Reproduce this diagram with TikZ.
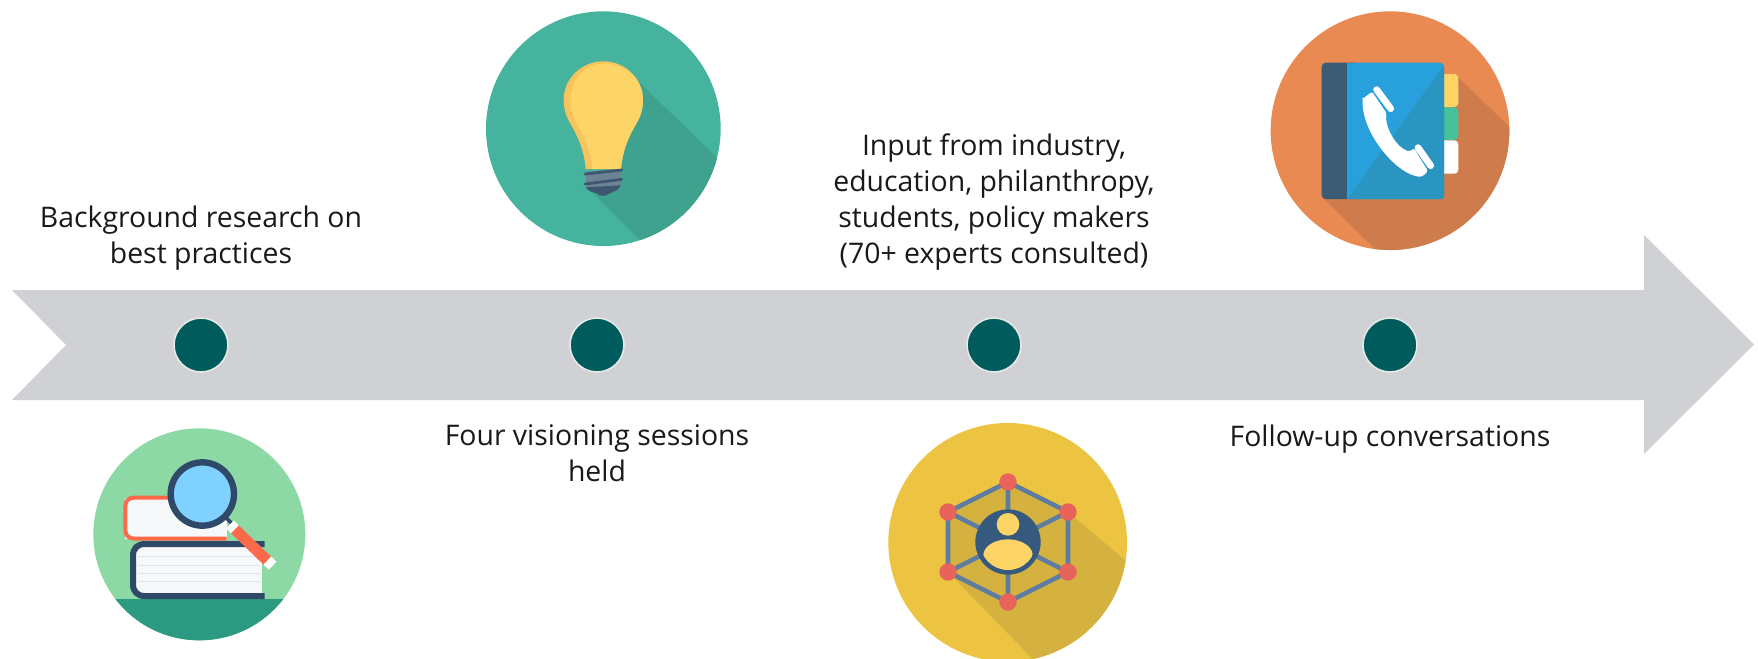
\documentclass[tikz,border=0pt]{standalone}
\usepackage{fontspec}
\setmainfont{Open Sans}
\usepackage{tikz}
\definecolor{barGray}{HTML}{CFD1D5}
\definecolor{dotTeal}{HTML}{005C5C}
\definecolor{dotRim}{HTML}{E8E8E8}
\definecolor{navy}{HTML}{2E4A68}
\definecolor{bookGreen}{HTML}{8CD9A5}
\definecolor{bookBand}{HTML}{2B9A80}
\definecolor{bookRed}{HTML}{FB6A4A}
\definecolor{glassBlue}{HTML}{7FD2FF}
\definecolor{pageWhite}{HTML}{F6F8F9}
\definecolor{pageLine}{HTML}{DFE4E8}
\definecolor{bulbTeal}{HTML}{45B39D}
\definecolor{bulbShade}{HTML}{3FA28E}
\definecolor{bulbDark}{HTML}{F8C35C}
\definecolor{bulbLight}{HTML}{FDD466}
\definecolor{capGray}{HTML}{6E8296}
\definecolor{capDark}{HTML}{3E5670}
\definecolor{netYellow}{HTML}{EDC342}
\definecolor{netShade}{HTML}{D5B13F}
\definecolor{netBlue}{HTML}{5C7CA0}
\definecolor{netRed}{HTML}{E8635A}
\definecolor{netNavy}{HTML}{365A7E}
\definecolor{phoneOrange}{HTML}{E98A52}
\definecolor{phoneShade}{HTML}{CE7C4C}
\definecolor{coverBlue}{HTML}{27A0DC}
\definecolor{coverShade}{HTML}{2B95C2}
\definecolor{spine}{HTML}{3C5B75}
\definecolor{tabGreen}{HTML}{45C19B}
\tikzstyle{dot}=[circle, inner sep=0pt, draw=dotRim, line width=0.8pt, fill=dotTeal, minimum size=27pt]
\tikzstyle{lbl}=[align=center, inner sep=0pt, text=black!90, font=\fontsize{14.2}{18}\selectfont]
\tikzstyle{icon}=[x=0.16667pt, y=-0.16667pt]
\tikzstyle{web}=[draw=netBlue, line width=2.3pt]
\tikzstyle{hub}=[fill=netRed]
\begin{document}
\begin{tikzpicture}[x=0.5pt, y=-0.5pt]
	\useasboundingbox (0,0) rectangle (1758,659);
	\clip (0,0) rectangle (1758,659);
	\fill[barGray] (12,290) -- (1644,290) -- (1644,235) -- (1754,344.5) -- (1644,454) -- (1644,400) -- (12,400) -- (66,345) -- cycle;
	\draw (201,345) node[dot] (d1) {};
	\draw (597,345) node[dot] (d2) {};
	\draw (994,345) node[dot] (d3) {};
	\draw (1390,345) node[dot] (d4) {};
	\draw (201,238) node[lbl] (t1) {Background research on\\best practices};
	\draw (597,453) node[lbl] (t2) {Four visioning sessions\\held};
	\draw (994,202) node[lbl] (t3) {Input from industry,\\education, philanthropy,\\students, policy makers\\(70+ experts consulted)};
	\draw (1390,439) node[lbl] (t4) {Follow-up conversations};
	\begin{scope}[shift={(60,400)}, icon]
		\fill[bookGreen] (418,403) circle (318);
		\begin{scope}
			\clip (418,403) circle (318);
			\fill[bookBand] (0,597) rectangle (900,760);
		\end{scope}
		\fill[pageWhite] (196,293) rectangle (500,416);
		\draw[bookRed, line width=2pt] (500,416) -- (225,416) .. controls (205,416) and (196,405) .. (196,390) -- (196,320) .. controls (196,303) and (205,293) .. (222,293) -- (340,293);
		\fill[pageWhite] (225,432) rectangle (606,588);
		\draw[pageLine, line width=0.4pt] (235,470) -- (600,470) (235,495) -- (600,495) (235,520) -- (600,520) (235,545) -- (600,545);
		\draw[navy, line width=3pt] (614,432) -- (255,432) .. controls (232,432) and (219,445) .. (219,468) -- (219,552) .. controls (219,575) and (232,588) .. (255,588) -- (614,588);
		\draw[navy, line width=1.8pt] (500,355) -- (515,370);
		\draw[white, line width=5.5pt] (510,373) -- (525,388);
		\draw[bookRed, line width=5.5pt] (525,388) -- (622,482);
		\draw[white, line width=5.5pt] (622,482) -- (638,497);
		\draw[navy, line width=3.2pt, fill=glassBlue] (427,282) circle (95);
	\end{scope}
	\begin{scope}[shift={(460,0)}, icon]
		\fill[bulbTeal] (430,386) circle (352);
		\begin{scope}
			\clip (430,386) circle (352);
			\fill[bulbShade] (530,240) -- (800,500) -- (800,800) -- (620,800) -- (390,570) -- cycle;
		\end{scope}
		\fill[bulbDark] (377,507) .. controls (372,440) and (345,395) .. (325,360) .. controls (315,340) and (311,320) .. (311,300) .. controls (311,235) and (365,184) .. (430,184) .. controls (495,184) and (549,235) .. (549,300) .. controls (549,320) and (545,340) .. (535,360) .. controls (515,395) and (488,440) .. (483,507) -- cycle;
		\fill[bulbLight] (398,507) .. controls (392,440) and (362,395) .. (345,360) .. controls (335,340) and (331,320) .. (331,300) .. controls (331,240) and (375,190) .. (430,190) .. controls (495,190) and (549,235) .. (549,300) .. controls (549,320) and (545,340) .. (535,360) .. controls (515,395) and (488,440) .. (483,507) -- cycle;
		\fill[capGray] (378,515) -- (482,510) -- (482,560) -- (378,565) -- cycle;
		\fill[capDark] (378,562) -- (482,556) .. controls (475,575) and (460,572) .. (450,580) .. controls (435,590) and (420,590) .. (410,580) .. controls (395,575) and (385,575) .. (378,562) -- cycle;
		\draw[capDark, line width=1.4pt, line cap=round] (375,522) -- (485,510) (375,552) -- (485,538);
	\end{scope}
	\begin{scope}[shift={(870,410)}, icon]
		\fill[netYellow] (413,397) circle (358);
		\begin{scope}
			\clip (413,397) circle (358);
			\fill[netShade] (234,306) -- (414,216) -- (594,306) -- (800,480) -- (800,800) -- (540,800) -- (234,486) -- cycle;
		\end{scope}
		\draw[web] (414,216) -- (594,306) -- (594,486) -- (414,576) -- (234,486) -- (234,306) -- cycle;
		\draw[web] (414,216) -- (414,576) (234,306) -- (594,486) (594,306) -- (234,486);
		\fill[hub] (414,216) circle (26) (594,306) circle (26) (594,486) circle (26) (414,576) circle (26) (234,486) circle (26) (234,306) circle (26);
		\fill[netNavy] (414,396) circle (98);
		\fill[bulbLight] (414,343) circle (34);
		\begin{scope}
			\clip (414,396) circle (84);
			\fill[bulbLight] (414,436) ellipse (74 and 48);
		\end{scope}
	\end{scope}
	\begin{scope}[shift={(1260,0)}, icon]
		\fill[phoneOrange] (390,392) circle (358);
		\begin{scope}
			\clip (390,392) circle (358);
			\fill[phoneShade] (590,228) -- (800,430) -- (800,800) -- (400,800) -- (185,590) -- cycle;
		\end{scope}
		\fill[bulbLight, rounded corners=2pt] (530,222) rectangle (595,321);
		\fill[tabGreen, rounded corners=2pt] (530,322) rectangle (595,420);
		\fill[white, rounded corners=2pt] (530,421) rectangle (595,521);
		\fill[spine, rounded corners=2pt] (185,188) rectangle (300,597);
		\fill[coverBlue, rounded corners=2pt] (280,188) -- (552,188) -- (552,597) -- (280,597) -- cycle;
		\fill[coverBlue] (262,188) rectangle (285,597);
		\fill[coverShade, rounded corners=1pt] (552,196) -- (552,597) -- (262,597) -- cycle;
		\begin{scope}[shift={(270,225)}]
			\fill[white, rounded corners=1pt] (38,72) -- (66,50) -- (110,115) .. controls (103,150) and (135,215) .. (178,230) -- (192,220) -- (234,288) .. controls (222,302) and (212,306) .. (200,304) .. controls (130,285) and (35,170) .. (38,72) -- cycle;
			\draw[white, line width=3.4pt, line cap=round] (80,44) -- (122,101) (204,218) -- (242,272);
		\end{scope}
	\end{scope}
\end{tikzpicture}
\end{document}
